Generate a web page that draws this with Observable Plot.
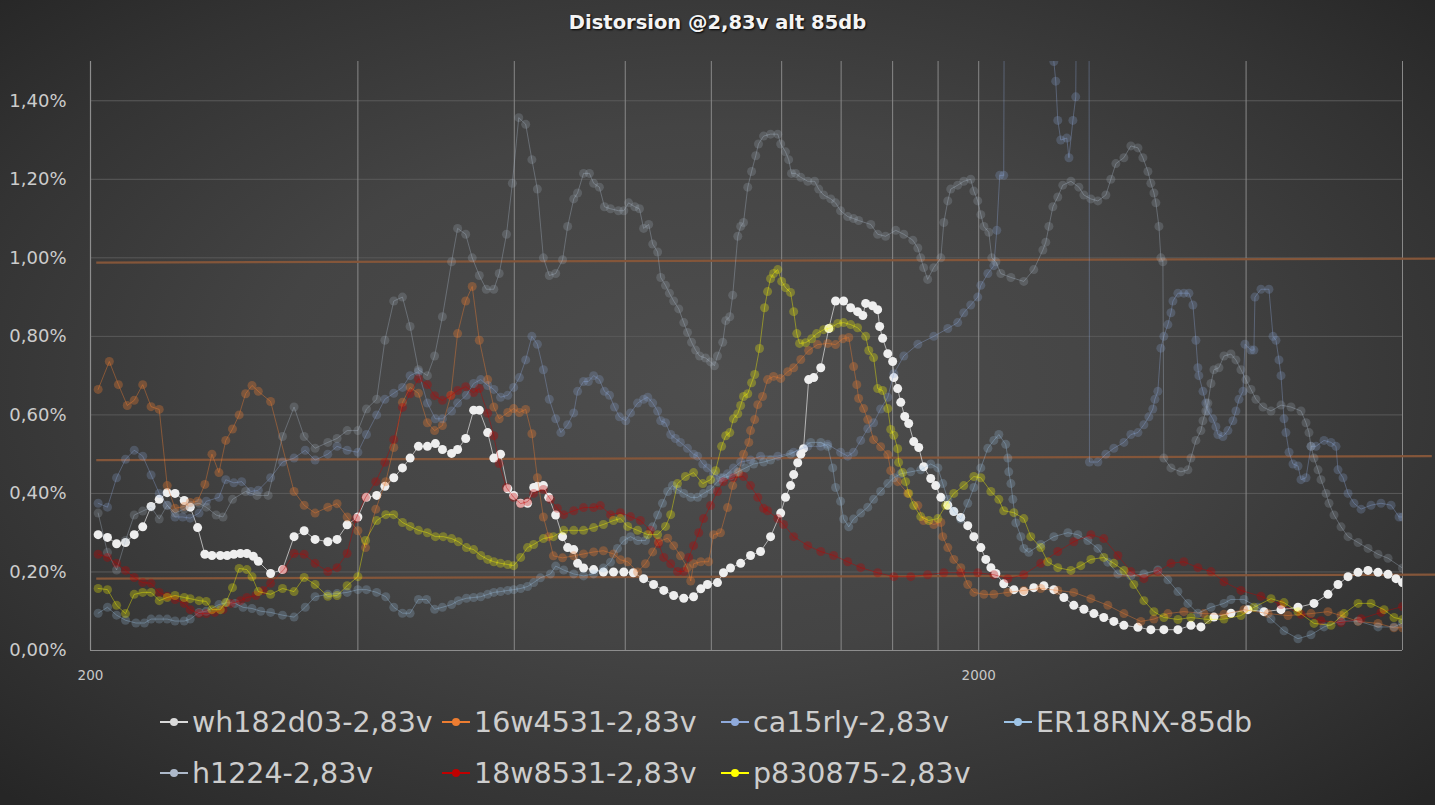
<!DOCTYPE html>
<html><head><meta charset="utf-8">
<script src="https://cdn.jsdelivr.net/npm/d3@7"></script>
<script src="https://cdn.jsdelivr.net/npm/@observablehq/plot@0.6"></script>
<style>
html,body{margin:0;padding:0;background:#2a2a2a;}
#wrap{position:relative;width:1435px;height:805px;overflow:hidden;
 background:radial-gradient(ellipse 70% 72% at 50% 48%, #4e4e4e 0%, #444 45%, #333 78%, #262626 100%);
 font-family:"DejaVu Sans",sans-serif;}
#title{position:absolute;top:11px;left:0;width:1435px;text-align:center;color:#f4f4f4;
 font:bold 19.5px "DejaVu Sans",sans-serif;text-shadow:1px 1px 2px #000;}
#chart{position:absolute;left:0;top:0;}
.lg{position:absolute;height:40px;display:flex;align-items:center;color:#cdcdcd;font-size:28.5px;white-space:nowrap;}
.lg .key{position:relative;width:28px;height:40px;margin-right:4px;}
.lg .key i{position:absolute;left:0;top:19px;width:28px;height:2px;}
.lg .key b{position:absolute;left:10px;top:16px;width:8px;height:8px;border-radius:50%;}
</style></head>
<body><div id="wrap"><div id="chart"></div><div id="title">Distorsion @2,83v alt 85db</div></div>
<script>
// ---- data: [frequency Hz, distortion %] ----
const wh182d03 = [[204,0.295],[209,0.288],[214,0.272],[219,0.275],[224,0.295],[229,0.315],[234,0.367],[239,0.385],[244,0.402],[249,0.40],[255,0.382],[259,0.365],[264,0.313],[269,0.245],[274,0.242],[280,0.242],[285,0.242],[290,0.245],[295,0.247],[300,0.247],[305,0.24],[309,0.227],[319,0.196],[329,0.206],[339,0.29],[348,0.305],[358,0.283],[370,0.277],[379,0.283],[389,0.32],[400,0.34],[409,0.39],[420,0.395],[429,0.418],[439,0.44],[449,0.465],[458,0.49],[468,0.52],[479,0.52],[489,0.527],[498,0.512],[510,0.502],[518,0.512],[529,0.54],[540,0.612],[548,0.612],[560,0.555],[569,0.49],[579,0.50],[590,0.412],[599,0.395],[610,0.375],[621,0.375],[631,0.415],[637,0.418],[647,0.42],[656,0.39],[668,0.345],[680,0.29],[689,0.262],[700,0.257],[707,0.222],[718,0.21],[737,0.206],[756,0.20],[776,0.20],[797,0.20],[817,0.198],[839,0.183],[861,0.168],[884,0.153],[907,0.14],[931,0.133],[955,0.137],[973,0.157],[990,0.168],[1016,0.173],[1032,0.198],[1051,0.21],[1079,0.222],[1107,0.242],[1136,0.252],[1166,0.29],[1197,0.35],[1212,0.39],[1228,0.42],[1238,0.448],[1251,0.478],[1261,0.50],[1270,0.514],[1287,0.69],[1304,0.695],[1328,0.72],[1356,0.82],[1380,0.89],[1409,0.89],[1435,0.873],[1461,0.863],[1481,0.853],[1492,0.884],[1519,0.878],[1539,0.868],[1547,0.825],[1559,0.795],[1580,0.756],[1600,0.736],[1605,0.695],[1621,0.667],[1634,0.632],[1651,0.596],[1668,0.578],[1690,0.532],[1712,0.517],[1734,0.468],[1766,0.438],[1789,0.42],[1813,0.39],[1846,0.37],[1875,0.354],[1909,0.339],[1944,0.318],[1975,0.29],[2011,0.262],[2037,0.232],[2064,0.211],[2091,0.196],[2134,0.17],[2191,0.155],[2248,0.15],[2307,0.16],[2368,0.165],[2430,0.155],[2494,0.135],[2559,0.115],[2627,0.105],[2696,0.094],[2766,0.084],[2839,0.074],[2914,0.064],[3022,0.059],[3125,0.053],[3232,0.053],[3352,0.053],[3467,0.064],[3558,0.06],[3680,0.085],[3846,0.095],[4019,0.104],[4190,0.099],[4379,0.104],[4576,0.11],[4770,0.12],[4946,0.143],[5076,0.168],[5210,0.188],[5347,0.199],[5487,0.204],[5631,0.199],[5779,0.194],[5900,0.183],[6000,0.173]];

const w16w4531 = [[204,0.665],[210,0.736],[215,0.677],[220,0.624],[224,0.637],[229,0.677],[234,0.621],[239,0.614],[244,0.42],[249,0.362],[255,0.367],[259,0.377],[264,0.38],[269,0.423],[274,0.50],[279,0.453],[284,0.535],[289,0.564],[294,0.60],[299,0.654],[304,0.675],[309,0.66],[319,0.634],[339,0.405],[348,0.37],[358,0.35],[370,0.365],[379,0.374],[389,0.34],[400,0.305],[408,0.262],[419,0.36],[430,0.43],[439,0.517],[449,0.632],[458,0.67],[468,0.655],[479,0.58],[488,0.56],[498,0.573],[509,0.65],[518,0.807],[529,0.89],[538,0.927],[548,0.79],[560,0.69],[569,0.62],[577,0.59],[590,0.606],[599,0.616],[608,0.606],[618,0.614],[628,0.552],[637,0.44],[647,0.34],[656,0.29],[664,0.241],[680,0.236],[700,0.241],[718,0.246],[737,0.251],[756,0.254],[776,0.246],[790,0.231],[805,0.226],[826,0.20],[843,0.221],[859,0.251],[872,0.277],[893,0.286],[907,0.267],[923,0.241],[940,0.211],[948,0.177],[955,0.221],[973,0.226],[993,0.226],[1006,0.295],[1024,0.30],[1043,0.364],[1057,0.42],[1073,0.453],[1087,0.50],[1102,0.53],[1107,0.56],[1119,0.588],[1128,0.626],[1142,0.647],[1157,0.69],[1175,0.698],[1197,0.693],[1219,0.71],[1238,0.72],[1261,0.741],[1287,0.764],[1317,0.779],[1352,0.782],[1380,0.779],[1406,0.794],[1428,0.797],[1446,0.723],[1458,0.677],[1465,0.642],[1484,0.616],[1500,0.588],[1523,0.537],[1551,0.519],[1580,0.499],[1592,0.458],[1621,0.43],[1664,0.40],[1708,0.369],[1734,0.331],[1780,0.321],[1813,0.326],[1822,0.29],[1846,0.262],[1875,0.232],[1909,0.211],[1944,0.168],[1975,0.148],[2027,0.143],[2080,0.143],[2157,0.148],[2248,0.153],[2349,0.158],[2455,0.153],[2559,0.148],[2675,0.132],[2795,0.115],[2914,0.094],[3045,0.074],[3150,0.08],[3266,0.094],[3404,0.099],[3586,0.094],[3777,0.092],[3978,0.104],[4234,0.094],[4459,0.089],[4733,0.094],[4946,0.099],[5116,0.089],[5347,0.074],[5631,0.069],[5869,0.058],[6000,0.058]];

const ca15rly = [[204,0.375],[209,0.365],[214,0.44],[219,0.487],[224,0.51],[229,0.495],[234,0.447],[239,0.40],[244,0.37],[249,0.34],[254,0.34],[259,0.337],[265,0.35],[270,0.38],[279,0.39],[284,0.435],[290,0.427],[296,0.43],[303,0.405],[309,0.408],[319,0.44],[329,0.48],[339,0.49],[349,0.51],[358,0.485],[370,0.50],[379,0.52],[389,0.51],[400,0.505],[409,0.55],[420,0.60],[429,0.64],[439,0.655],[449,0.67],[458,0.70],[468,0.71],[479,0.63],[489,0.59],[498,0.59],[510,0.61],[518,0.63],[530,0.65],[540,0.68],[550,0.69],[560,0.675],[569,0.665],[579,0.645],[590,0.65],[599,0.67],[608,0.695],[618,0.74],[628,0.80],[637,0.78],[647,0.715],[657,0.64],[668,0.59],[677,0.555],[689,0.575],[700,0.605],[707,0.66],[718,0.685],[727,0.685],[737,0.70],[748,0.69],[758,0.66],[768,0.65],[778,0.62],[788,0.595],[801,0.585],[811,0.605],[826,0.63],[839,0.64],[848,0.645],[859,0.63],[870,0.61],[877,0.585],[888,0.58],[900,0.55],[911,0.54],[923,0.53],[940,0.515],[955,0.50],[965,0.495],[978,0.475],[990,0.465],[1006,0.45],[1024,0.44],[1043,0.45],[1059,0.465],[1079,0.48],[1107,0.485],[1136,0.495],[1188,0.495],[1238,0.505],[1284,0.52],[1328,0.52],[1352,0.525],[1398,0.505],[1424,0.495],[1446,0.505],[1473,0.535],[1500,0.565],[1523,0.58],[1551,0.615],[1580,0.645],[1605,0.705],[1647,0.75],[1708,0.78],[1780,0.80],[1846,0.82],[1894,0.835],[1924,0.86],[1959,0.88],[1995,0.90],[2011,0.93],[2048,0.96],[2080,0.98],[2096,1.07],[2112,1.21],[2134,1.21],[2140,2.2],[2424,2.2],[2430,1.50],[2442,1.45],[2455,1.35],[2474,1.30],[2513,1.305],[2527,1.255],[2553,1.35],[2572,1.41],[2586,2.2],[2661,2.2],[2665,0.48],[2724,0.48],[2781,0.50],[2839,0.515],[2914,0.53],[2967,0.55],[3022,0.555],[3069,0.575],[3109,0.595],[3141,0.615],[3158,0.64],[3182,0.66],[3207,0.77],[3232,0.80],[3266,0.83],[3292,0.86],[3309,0.89],[3352,0.91],[3404,0.91],[3449,0.91],[3485,0.88],[3512,0.79],[3530,0.72],[3539,0.70],[3577,0.66],[3604,0.63],[3623,0.61],[3670,0.59],[3699,0.57],[3718,0.55],[3767,0.545],[3816,0.56],[3866,0.585],[3896,0.61],[3927,0.64],[3968,0.66],[3988,0.78],[4051,0.765],[4082,0.765],[4093,0.90],[4157,0.92],[4244,0.92],[4289,0.80],[4322,0.79],[4356,0.74],[4379,0.70],[4413,0.59],[4435,0.555],[4471,0.505],[4517,0.475],[4576,0.47],[4612,0.435],[4672,0.44],[4733,0.52],[4795,0.52],[4895,0.535],[4985,0.53],[5050,0.52],[5076,0.46],[5143,0.44],[5210,0.40],[5291,0.375],[5389,0.36],[5530,0.37],[5675,0.375],[5825,0.37],[5947,0.34],[6000,0.34]];

const er18rnx = [[204,0.095],[209,0.11],[214,0.09],[219,0.077],[225,0.07],[230,0.07],[234,0.08],[239,0.08],[244,0.08],[249,0.075],[255,0.075],[259,0.08],[265,0.097],[270,0.10],[279,0.117],[285,0.122],[291,0.12],[297,0.11],[304,0.107],[311,0.10],[319,0.097],[329,0.09],[339,0.085],[349,0.11],[358,0.137],[370,0.143],[379,0.145],[389,0.148],[400,0.155],[409,0.155],[420,0.148],[430,0.137],[439,0.11],[449,0.095],[458,0.095],[468,0.13],[478,0.13],[488,0.105],[498,0.11],[510,0.117],[519,0.127],[530,0.133],[540,0.135],[550,0.137],[560,0.143],[569,0.148],[579,0.15],[590,0.153],[599,0.155],[610,0.158],[621,0.163],[631,0.173],[642,0.185],[659,0.195],[668,0.215],[682,0.205],[700,0.195],[718,0.19],[737,0.195],[756,0.21],[770,0.225],[784,0.26],[797,0.28],[811,0.29],[826,0.28],[843,0.28],[859,0.315],[870,0.345],[881,0.375],[893,0.405],[904,0.42],[916,0.41],[931,0.40],[948,0.39],[965,0.39],[980,0.40],[998,0.41],[1016,0.43],[1032,0.44],[1051,0.445],[1071,0.455],[1093,0.465],[1116,0.475],[1145,0.48],[1166,0.485],[1228,0.50],[1294,0.53],[1328,0.53],[1352,0.52],[1370,0.465],[1380,0.415],[1398,0.38],[1409,0.335],[1428,0.315],[1446,0.335],[1473,0.35],[1500,0.365],[1523,0.385],[1551,0.405],[1580,0.425],[1605,0.44],[1634,0.45],[1677,0.455],[1721,0.46],[1766,0.475],[1799,0.465],[1822,0.425],[1846,0.385],[1875,0.355],[1909,0.335],[1944,0.375],[1975,0.415],[2011,0.465],[2048,0.515],[2080,0.535],[2107,0.55],[2145,0.525],[2157,0.49],[2162,0.455],[2174,0.425],[2185,0.385],[2202,0.325],[2231,0.29],[2248,0.26],[2277,0.25],[2349,0.27],[2430,0.29],[2520,0.30],[2586,0.295],[2654,0.28],[2724,0.26],[2795,0.225],[2869,0.195],[2967,0.19],[3069,0.195],[3182,0.205],[3266,0.18],[3352,0.15],[3440,0.12],[3530,0.095],[3652,0.11],[3777,0.12],[3846,0.13],[3978,0.13],[4125,0.11],[4267,0.08],[4413,0.05],[4576,0.03],[4733,0.04],[4895,0.06],[5116,0.075],[5347,0.075],[5631,0.06],[5869,0.06],[6000,0.07]];

const h1224 = [[204,0.35],[209,0.25],[214,0.205],[219,0.28],[224,0.345],[229,0.355],[234,0.365],[239,0.335],[244,0.37],[249,0.35],[255,0.36],[259,0.37],[265,0.375],[270,0.365],[277,0.345],[282,0.34],[289,0.385],[299,0.405],[308,0.395],[317,0.395],[329,0.545],[339,0.62],[348,0.545],[358,0.515],[370,0.53],[379,0.54],[389,0.56],[400,0.56],[409,0.615],[420,0.64],[429,0.79],[439,0.89],[449,0.90],[458,0.825],[468,0.715],[479,0.70],[488,0.75],[498,0.85],[510,0.99],[518,1.075],[529,1.06],[538,1.00],[548,0.955],[558,0.92],[569,0.92],[577,0.96],[588,1.06],[597,1.19],[607,1.357],[618,1.34],[628,1.25],[637,1.175],[647,1.00],[657,0.955],[668,0.96],[680,0.995],[689,1.08],[700,1.15],[707,1.165],[718,1.215],[729,1.215],[737,1.19],[748,1.18],[758,1.13],[770,1.125],[786,1.12],[797,1.12],[807,1.14],[820,1.13],[830,1.125],[839,1.075],[850,1.085],[859,1.035],[870,1.015],[877,0.95],[888,0.93],[897,0.91],[907,0.89],[919,0.87],[931,0.835],[940,0.81],[950,0.785],[960,0.765],[970,0.75],[985,0.745],[998,0.735],[1008,0.725],[1016,0.75],[1030,0.785],[1038,0.84],[1049,0.85],[1057,0.905],[1071,1.055],[1079,1.08],[1087,1.09],[1099,1.18],[1110,1.22],[1122,1.26],[1130,1.29],[1145,1.31],[1166,1.315],[1188,1.315],[1197,1.29],[1212,1.27],[1222,1.25],[1231,1.215],[1244,1.215],[1261,1.205],[1284,1.195],[1307,1.195],[1321,1.175],[1338,1.16],[1363,1.15],[1380,1.14],[1398,1.12],[1424,1.105],[1446,1.10],[1465,1.095],[1512,1.085],[1539,1.06],[1571,1.055],[1613,1.07],[1647,1.06],[1686,1.045],[1708,1.025],[1721,1.00],[1734,0.975],[1752,0.945],[1780,0.975],[1813,1.00],[1827,1.09],[1846,1.145],[1860,1.175],[1894,1.185],[1924,1.195],[1959,1.20],[1975,1.17],[1995,1.145],[2011,1.11],[2027,1.08],[2053,1.065],[2069,1.0],[2091,0.99],[2118,0.96],[2174,0.95],[2248,0.94],[2307,0.97],[2362,1.02],[2380,1.04],[2399,1.08],[2424,1.13],[2455,1.155],[2487,1.185],[2540,1.195],[2593,1.18],[2627,1.16],[2675,1.15],[2724,1.145],[2781,1.16],[2817,1.20],[2854,1.24],[2914,1.255],[2967,1.285],[3022,1.28],[3061,1.255],[3101,1.22],[3125,1.19],[3150,1.165],[3166,1.14],[3191,1.08],[3207,1.00],[3224,0.99],[3232,0.49],[3292,0.465],[3378,0.455],[3440,0.46],[3467,0.49],[3512,0.535],[3558,0.56],[3577,0.585],[3604,0.61],[3623,0.63],[3652,0.68],[3680,0.715],[3728,0.72],[3777,0.75],[3846,0.755],[3896,0.74],[3947,0.715],[3998,0.69],[4051,0.665],[4103,0.64],[4179,0.62],[4267,0.61],[4379,0.625],[4494,0.62],[4612,0.61],[4672,0.58],[4708,0.555],[4733,0.52],[4770,0.49],[4820,0.46],[4857,0.435],[4921,0.40],[4959,0.375],[5024,0.345],[5116,0.315],[5210,0.29],[5347,0.275],[5487,0.26],[5631,0.245],[5779,0.235],[6000,0.21]];

const w18w8531 = [[204,0.245],[209,0.237],[214,0.222],[219,0.204],[224,0.186],[229,0.173],[234,0.171],[239,0.148],[244,0.138],[249,0.13],[255,0.12],[259,0.104],[265,0.094],[270,0.094],[276,0.097],[282,0.104],[288,0.12],[295,0.127],[300,0.135],[307,0.14],[313,0.153],[319,0.171],[330,0.206],[339,0.247],[348,0.245],[358,0.222],[370,0.201],[379,0.211],[389,0.247],[398,0.336],[408,0.39],[419,0.43],[429,0.479],[439,0.537],[449,0.619],[458,0.654],[468,0.692],[479,0.677],[488,0.649],[498,0.637],[509,0.649],[518,0.662],[529,0.672],[540,0.657],[548,0.667],[560,0.604],[569,0.547],[577,0.476],[588,0.415],[599,0.39],[610,0.374],[621,0.379],[631,0.40],[647,0.41],[659,0.385],[671,0.362],[682,0.346],[700,0.356],[718,0.364],[737,0.364],[750,0.369],[770,0.346],[790,0.351],[811,0.341],[832,0.331],[854,0.306],[872,0.272],[884,0.237],[900,0.221],[916,0.201],[931,0.201],[943,0.237],[955,0.267],[968,0.30],[980,0.336],[998,0.369],[1016,0.405],[1032,0.43],[1059,0.44],[1087,0.443],[1107,0.42],[1128,0.39],[1145,0.362],[1157,0.356],[1188,0.336],[1206,0.321],[1238,0.29],[1284,0.267],[1328,0.252],[1373,0.242],[1424,0.226],[1473,0.211],[1539,0.198],[1605,0.188],[1677,0.188],[1752,0.193],[1827,0.198],[1909,0.198],[1995,0.198],[2080,0.193],[2157,0.183],[2248,0.193],[2349,0.222],[2455,0.252],[2559,0.277],[2675,0.295],[2766,0.285],[2869,0.242],[2967,0.201],[3069,0.183],[3182,0.201],[3292,0.222],[3404,0.226],[3530,0.211],[3652,0.201],[3777,0.175],[3947,0.153],[4157,0.138],[4379,0.117],[4612,0.092],[4857,0.076],[5116,0.071],[5389,0.081],[5675,0.097],[6000,0.112]];

const p830875 = [[204,0.158],[209,0.155],[214,0.115],[219,0.094],[224,0.143],[229,0.148],[234,0.148],[239,0.127],[244,0.135],[249,0.14],[255,0.135],[259,0.132],[265,0.127],[270,0.125],[274,0.104],[280,0.104],[284,0.122],[289,0.16],[294,0.209],[300,0.206],[304,0.188],[309,0.15],[319,0.143],[329,0.158],[339,0.15],[348,0.186],[358,0.168],[370,0.138],[379,0.14],[389,0.165],[400,0.188],[408,0.28],[420,0.331],[430,0.346],[439,0.346],[449,0.326],[458,0.316],[468,0.306],[479,0.30],[489,0.29],[499,0.29],[510,0.285],[519,0.277],[530,0.262],[540,0.257],[550,0.242],[560,0.232],[569,0.226],[579,0.222],[590,0.219],[599,0.216],[610,0.237],[621,0.262],[631,0.27],[647,0.285],[664,0.29],[682,0.306],[700,0.306],[718,0.306],[737,0.313],[756,0.321],[776,0.331],[790,0.336],[805,0.316],[826,0.306],[848,0.295],[870,0.295],[888,0.316],[900,0.346],[916,0.425],[935,0.443],[955,0.453],[978,0.425],[998,0.435],[1011,0.458],[1027,0.52],[1038,0.547],[1049,0.555],[1059,0.59],[1071,0.603],[1079,0.624],[1087,0.647],[1099,0.654],[1110,0.682],[1119,0.703],[1133,0.769],[1148,0.873],[1157,0.914],[1166,0.947],[1175,0.96],[1188,0.97],[1200,0.94],[1212,0.924],[1228,0.912],[1238,0.863],[1248,0.807],[1257,0.782],[1277,0.784],[1297,0.794],[1314,0.807],[1338,0.817],[1363,0.822],[1388,0.833],[1409,0.835],[1435,0.83],[1461,0.822],[1492,0.80],[1504,0.764],[1523,0.746],[1539,0.667],[1559,0.662],[1580,0.616],[1592,0.563],[1605,0.548],[1621,0.514],[1625,0.479],[1642,0.453],[1655,0.43],[1668,0.40],[1690,0.369],[1721,0.341],[1757,0.331],[1799,0.336],[1836,0.369],[1875,0.40],[1924,0.42],[1975,0.443],[2011,0.44],[2064,0.405],[2107,0.385],[2134,0.356],[2191,0.351],[2248,0.336],[2289,0.29],[2349,0.262],[2392,0.226],[2455,0.211],[2540,0.204],[2606,0.216],[2675,0.232],[2766,0.237],[2839,0.222],[2914,0.204],[2990,0.168],[3069,0.127],[3150,0.099],[3232,0.084],[3352,0.079],[3467,0.084],[3623,0.079],[3777,0.08],[3947,0.089],[4082,0.11],[4267,0.132],[4413,0.122],[4576,0.099],[4770,0.069],[4985,0.064],[5156,0.094],[5347,0.12],[5530,0.12],[5720,0.104],[5869,0.084],[6000,0.079]];

// horizontal brown reference lines: [f1, v1, f2, v2]
const refLines = [[203,0.988,6540,0.998],[203,0.485,6474,0.495],[203,0.183,6540,0.193]];
const xTicks = [200, 2000];
const xGrid = [400,600,800,1000,1200,1400,1600,1800,2000,4000,6000];
const yTicks = [0,0.2,0.4,0.6,0.8,1.0,1.2,1.4];

const series = [
  {name:"wh182d03-2,83v", data:wh182d03, color:"#eeeeee", fo:1, so:0.8, key:"#d9d9d9", lineColor:"#d0d0d0"},
  {name:"16w4531-2,83v", data:w16w4531, color:"#ED7D31", fo:0.33, so:0.42, key:"#ED7D31"},
  {name:"ca15rly-2,83v", data:ca15rly, color:"#8FAADC", fo:0.24, so:0.35, key:"#8FAADC"},
  {name:"ER18RNX-85db", data:er18rnx, color:"#9DC3E6", fo:0.24, so:0.35, key:"#9DC3E6"},
  {name:"h1224-2,83v", data:h1224, color:"#ADB9CA", fo:0.22, so:0.35, key:"#ADB9CA"},
  {name:"18w8531-2,83v", data:w18w8531, color:"#C00000", fo:0.32, so:0.42, key:"#C00000"},
  {name:"p830875-2,83v", data:p830875, color:"#FFFF00", fo:0.28, so:0.38, key:"#FFFF00"}
];

const pct = d => d.toFixed(2).replace(".", ",") + "%";

const marks = [
  Plot.ruleY(yTicks.slice(1), {stroke:"#5a5a5a", strokeWidth:1}),
  Plot.ruleX(xGrid, {stroke:"#888888", strokeWidth:1}),
  Plot.ruleX([200], {stroke:"#8d8d8d", strokeWidth:1.2}),
  Plot.ruleY([0], {stroke:"#8d8d8d", strokeWidth:1.2}),
  Plot.link(refLines, {x1:d=>d[0], y1:d=>d[1], x2:d=>d[2], y2:d=>d[3], stroke:"#84563a", strokeWidth:2.2}),
  Plot.axisY({ticks:yTicks, tickFormat:pct, tickSize:0, tickPadding:24, fontSize:18, fill:"#cccccc", label:null}),
  Plot.axisX({ticks:xTicks, tickFormat:d=>String(d), tickSize:0, tickPadding:20, fontSize:13.5, fill:"#c8c8c8", label:null})
];
series.forEach((s, i) => {
  const rows = s.data.map(([f, v]) => ({f, v}));
  marks.push(Plot.line(rows, {x:"f", y:"v", stroke:s.lineColor || s.color, strokeOpacity:s.so, strokeWidth:1, clip:true}));
  marks.push(Plot.dot(rows, {x:"f", y:"v", r:4.5, fill:s.color, fillOpacity:s.fo, stroke:"none", clip:true, ariaLabel: i === 0 ? "white-dots" : "dots"}));
});

const chart = Plot.plot({
  width:1435, height:700,
  marginTop:61, marginBottom:50, marginLeft:90, marginRight:33,
  style:{background:"transparent", fontFamily:"DejaVu Sans, sans-serif", overflow:"visible"},
  x:{type:"log", domain:[200,6000]},
  y:{domain:[0,1.5]},
  marks
});
document.getElementById("chart").appendChild(chart);
const wd = chart.querySelector('[aria-label="white-dots"]');
if (wd) wd.style.filter = "drop-shadow(1px 2px 1.4px rgba(0,0,0,0.95))";

// legend
const legendPos = [[160,702],[442,702],[721,702],[1004,702],[160,753],[442,753],[721,753]];
const wrap = document.getElementById("wrap");
series.forEach((s, i) => {
  const el = document.createElement("div");
  el.className = "lg";
  el.style.left = legendPos[i][0] + "px";
  el.style.top = legendPos[i][1] + "px";
  el.innerHTML = `<span class="key"><i style="background:${s.key}"></i><b style="background:${s.key}"></b></span><span>${s.name}</span>`;
  wrap.appendChild(el);
});
</script>
</body></html>
